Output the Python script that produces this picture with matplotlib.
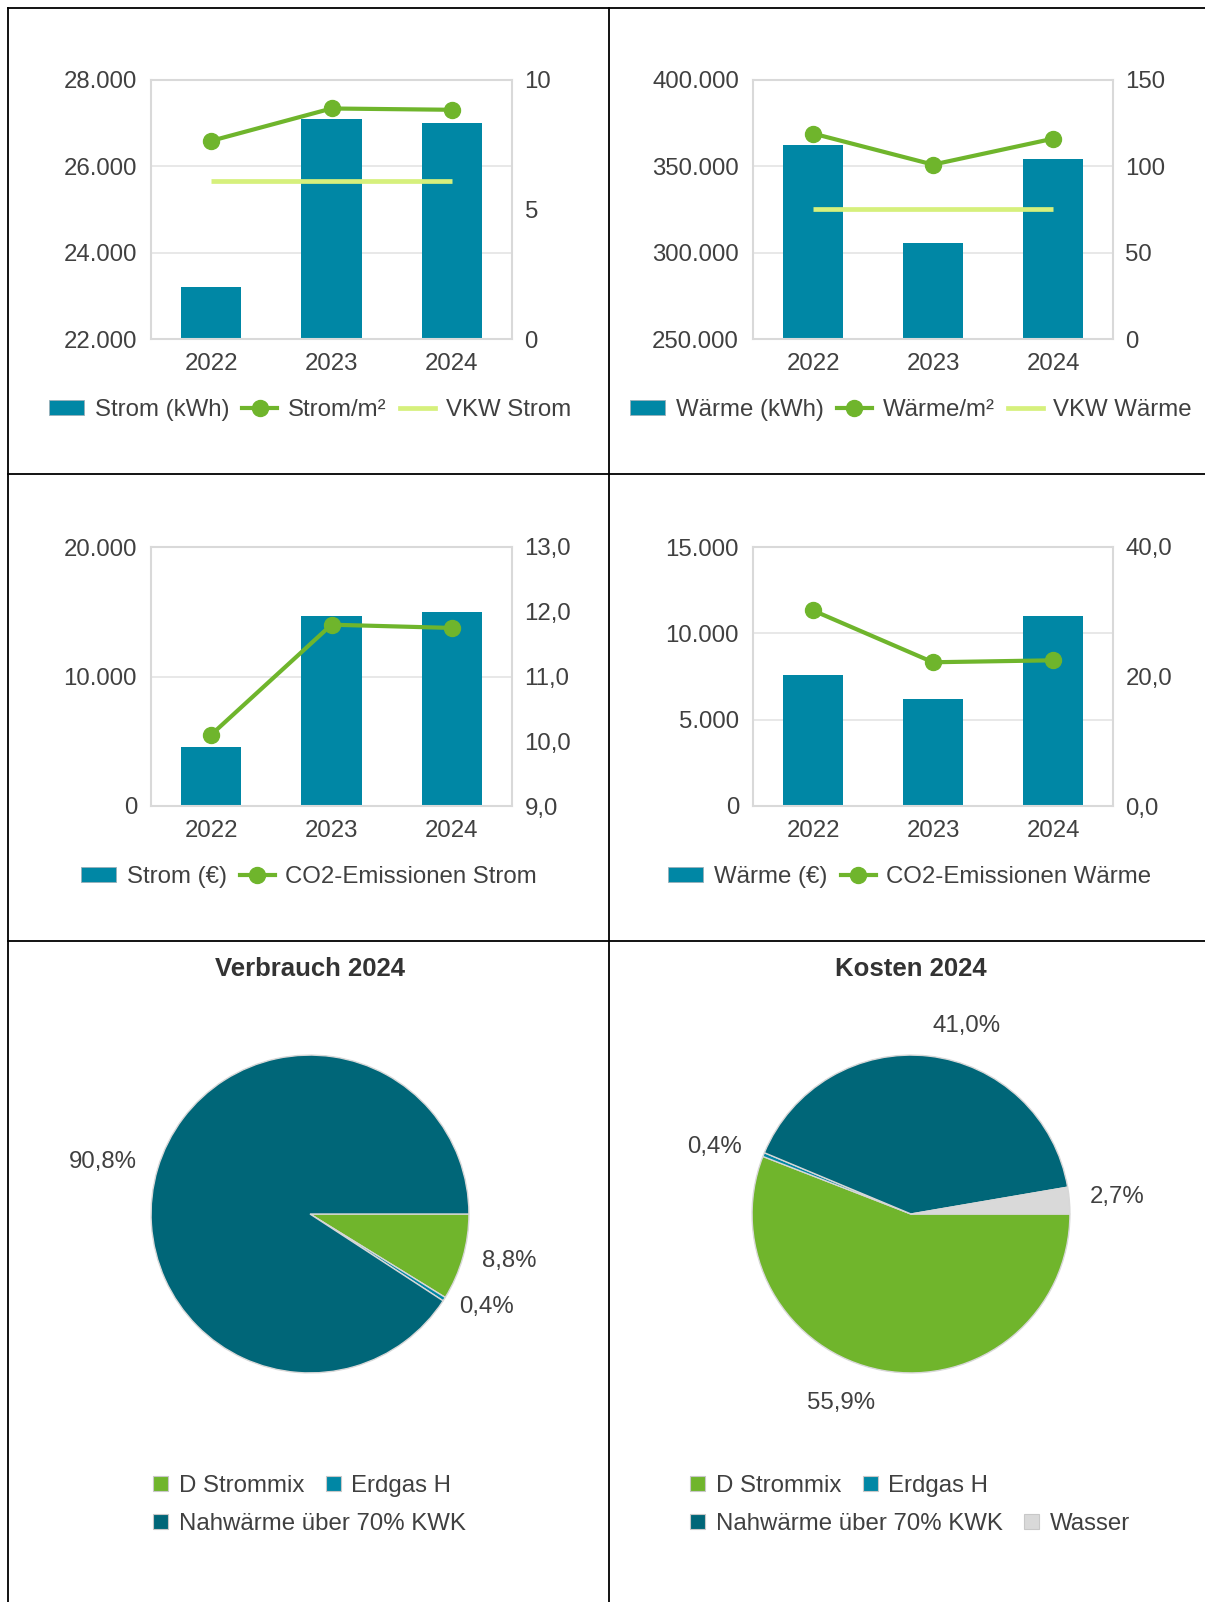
import matplotlib
matplotlib.use("Agg")
import matplotlib.pyplot as plt
from matplotlib.lines import Line2D
from matplotlib.patches import Patch
from matplotlib.ticker import FuncFormatter

W, H = 1205, 1602
plt.rcParams['font.family'] = ['Liberation Sans', 'DejaVu Sans']
FS = 17.3
TXT = '#404040'
BAR = '#0087a5'
GREEN = '#6fb52c'
VKW = '#d6f07c'
GRID = '#e4e4e4'
FRAME = '#d9d9d9'
DARK = '#006678'
GREY = '#d9d9d9'

# ---------------- data ----------------
years = ['2022', '2023', '2024']
strom_kwh = [23200, 27100, 27000]
strom_m2 = [7.65, 8.9, 8.85]
vkw_strom = [6.1, 6.1, 6.1]
waerme_kwh = [362200, 305500, 354500]
waerme_m2 = [119, 101, 116]
vkw_waerme = [75, 75, 75]
strom_eur = [4550, 14650, 14950]
co2_strom = [10.1, 11.8, 11.75]
waerme_eur = [7600, 6200, 11000]
co2_waerme = [30.2, 22.2, 22.5]

verbrauch_labels = ['D Strommix', 'Erdgas H', 'Nahwärme über 70% KWK']
verbrauch_2024 = [8.8, 0.4, 90.8]
verbrauch_text = ['8,8%', '0,4%', '90,8%']
kosten_labels = ['D Strommix', 'Erdgas H', 'Nahwärme über 70% KWK', 'Wasser']
kosten_2024 = [55.9, 0.4, 41.0, 2.7]
kosten_text = ['55,9%', '0,4%', '41,0%', '2,7%']

fig = plt.figure(figsize=(W / 100, H / 100), dpi=100)
fig.patch.set_facecolor('white')


def de_int(v, p=None):
    return f"{v:,.0f}".replace(",", ".")


def de_1(v, p=None):
    return f"{v:.1f}".replace(".", ",")


def px_axes(x0, y0, x1, y1):
    return fig.add_axes([x0 / W, 1 - y1 / H, (x1 - x0) / W, (y1 - y0) / H])


def bar_panel(px, bars, line, vkw, ylim_l, ticks_l, ylim_r, ticks_r, fmt_r,
              labels, leg_xy):
    ax = px_axes(*px)
    xs = list(range(len(years)))
    ax.bar(xs, bars, width=0.5, color=BAR, zorder=2)
    ax.set_xlim(-0.5, 2.5)
    ax.set_ylim(*ylim_l)
    ax.set_yticks(ticks_l)
    ax.yaxis.set_major_formatter(FuncFormatter(de_int))
    ax.set_xticks(xs)
    ax.set_xticklabels(years)
    ax.grid(axis='y', color=GRID, lw=1.2, zorder=0)
    ax.set_axisbelow(True)
    for s in ax.spines.values():
        s.set_color(FRAME)
        s.set_linewidth(1.5)
    ax.tick_params(length=0, labelsize=FS, labelcolor=TXT)
    ax.tick_params(axis='y', pad=10)
    ax.tick_params(axis='x', pad=10)
    ax2 = ax.twinx()
    ax2.set_ylim(*ylim_r)
    ax2.set_yticks(ticks_r)
    ax2.yaxis.set_major_formatter(FuncFormatter(fmt_r))
    ax2.tick_params(length=0, labelsize=FS, labelcolor=TXT, pad=9)
    for s in ax2.spines.values():
        s.set_visible(False)
    handles = [Patch(facecolor=BAR, edgecolor='#9ab0b8', lw=0.6),
               Line2D([], [], color=GREEN, lw=3, marker='o', ms=11.5)]
    if vkw is not None:
        ax2.plot(xs, vkw, color=VKW, lw=3.4, solid_capstyle='butt', zorder=3)
        handles.append(Line2D([], [], color=VKW, lw=3.4))
    ax2.plot(xs, line, color=GREEN, lw=3, marker='o', ms=11.5, zorder=4)
    fig.legend(handles, labels, loc='center',
               bbox_to_anchor=(leg_xy[0] / W, 1 - leg_xy[1] / H),
               ncol=len(handles), frameon=False, fontsize=FS,
               handlelength=1.45, handleheight=0.6, handletextpad=0.45,
               columnspacing=0.55, borderpad=0, labelcolor=TXT)


bar_panel((151, 80, 512, 339), strom_kwh, strom_m2, vkw_strom,
          (22000, 28000), [22000, 24000, 26000, 28000], (0, 10), [0, 5, 10],
          de_int, ['Strom (kWh)', 'Strom/m²', 'VKW Strom'], (310, 410))
bar_panel((753, 80, 1113, 339), waerme_kwh, waerme_m2, vkw_waerme,
          (250000, 400000), [250000, 300000, 350000, 400000], (0, 150),
          [0, 50, 100, 150], de_int,
          ['Wärme (kWh)', 'Wärme/m²', 'VKW Wärme'], (911, 410))
bar_panel((151, 547, 512, 806), strom_eur, co2_strom, None,
          (0, 20000), [0, 10000, 20000], (9, 13), [9, 10, 11, 12, 13],
          de_1, ['Strom (€)', 'CO2-Emissionen Strom'], (309, 877))
bar_panel((753, 547, 1113, 806), waerme_eur, co2_waerme, None,
          (0, 15000), [0, 5000, 10000, 15000], (0, 40), [0, 20, 40],
          de_1, ['Wärme (€)', 'CO2-Emissionen Wärme'], (910, 877))


def pie_panel(cx, cy, r, values, colors, labels, texts, text_pos, title,
              leg_rows, leg_x, leg_ys):
    ax = px_axes(cx - r, cy - r, cx + r, cy + r)
    ax.pie(values, colors=colors, startangle=0, counterclock=False, radius=1,
           wedgeprops=dict(edgecolor='#d8d8d8', linewidth=1.0))
    ax.set_xlim(-1.01, 1.01)
    ax.set_ylim(-1.01, 1.01)
    ax.axis('off')
    for t, (tx, ty) in zip(texts, text_pos):
        fig.text(tx / W, 1 - ty / H, t, ha='center', va='center',
                 fontsize=FS, color=TXT)
    fig.text(cx / W, 1 - 969 / H, title, ha='center', va='center',
             fontsize=18.5, fontweight='bold', color='#333333')
    for idxs, ly in zip(leg_rows, leg_ys):
        hs = [Patch(facecolor=colors[i], edgecolor='#c8c8c8', lw=0.8)
              for i in idxs]
        fig.legend(hs, [labels[i] for i in idxs], loc='center left',
                   bbox_to_anchor=(leg_x / W, 1 - ly / H), ncol=len(idxs),
                   frameon=False, fontsize=FS, handlelength=0.62,
                   handleheight=0.62, handletextpad=0.45, columnspacing=0.9,
                   borderpad=0, borderaxespad=0, labelcolor=TXT)


pie_panel(310, 1214, 160.5, verbrauch_2024, ['#70b52c', BAR, DARK],
          verbrauch_labels, verbrauch_text,
          [(509, 1261), (487, 1307), (103, 1162)], 'Verbrauch 2024',
          [[0, 1], [2]], 153, [1486, 1524])
pie_panel(911, 1214, 160.5, kosten_2024, ['#70b52c', BAR, DARK, GREY],
          kosten_labels, kosten_text,
          [(841, 1403), (715, 1147), (967, 1026), (1117, 1197)], 'Kosten 2024',
          [[0, 1], [2, 3]], 690, [1486, 1524])

# ---------------- frame lines ----------------
def hline(y, x0, x1):
    fig.add_artist(Line2D([x0 / W, x1 / W], [1 - y / H, 1 - y / H],
                          color='black', lw=1.3, transform=fig.transFigure))


def vline(x, y0, y1):
    fig.add_artist(Line2D([x / W, x / W], [1 - y0 / H, 1 - y1 / H],
                          color='black', lw=1.3, transform=fig.transFigure))


hline(8, 8, W)
hline(474, 8, W)
hline(941, 8, W)
vline(8, 8, H)
vline(609, 8, H)

fig.savefig('out.png', dpi=100, facecolor='white')
